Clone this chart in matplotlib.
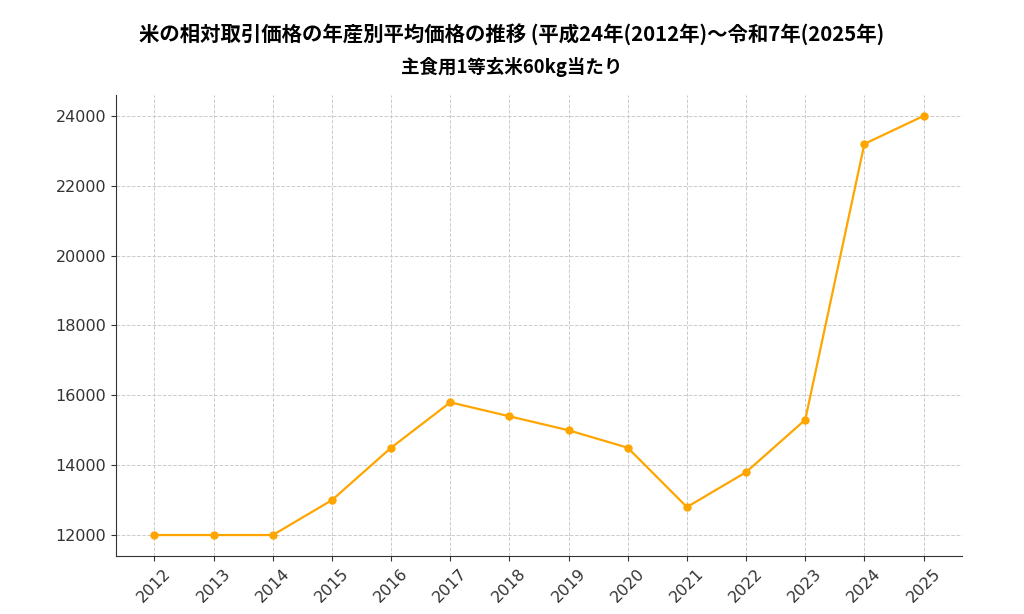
import matplotlib
matplotlib.use("Agg")
import matplotlib.pyplot as plt

years = [2012, 2013, 2014, 2015, 2016, 2017, 2018, 2019, 2020, 2021, 2022, 2023, 2024, 2025]
prices = [12000, 12000, 12000, 13000, 14500, 15800, 15400, 15000, 14500, 12800, 13800, 15300, 23200, 24000]
yticks = [12000, 14000, 16000, 18000, 20000, 22000, 24000]
title = "米の相対取引価格の年産別平均価格の推移 (平成24年(2012年)〜令和7年(2025年)"
subtitle = "主食用1等玄米60kg当たり"

plt.rcParams['font.family'] = ['DejaVu Sans']

fig = plt.figure(figsize=(10.24, 6.14), dpi=100)
ax = fig.add_axes([116/1024, 1-556/614, (962-116)/1024, (556-95)/614])
ax.plot(years, prices, color='#FFA500', marker='o', markersize=5, linewidth=1.6)
ax.set_xticks(years)
ax.set_xticklabels([str(y) for y in years], rotation=45, fontsize=11.5, color='#333333')
ax.set_yticks(yticks)
ax.set_yticklabels([str(v) for v in yticks], fontsize=11.5, color='#333333')
ax.grid(True, linestyle='--', color='#cccccc', linewidth=0.7)
ax.spines['top'].set_visible(False)
ax.spines['right'].set_visible(False)
ax.spines['left'].set_color('#333333')
ax.spines['bottom'].set_color('#333333')
ax.tick_params(colors='#333333')
cjk = ['Noto Sans CJK JP', 'DejaVu Sans']
fig.text(0.5, 1-34/614, title, ha='center', va='center', fontsize=14.7, fontweight='bold', family=cjk)
fig.text(0.5, 1-67/614, subtitle, ha='center', va='center', fontsize=13.3, fontweight='bold', family=cjk)
fig.savefig('out.png', dpi=100)
